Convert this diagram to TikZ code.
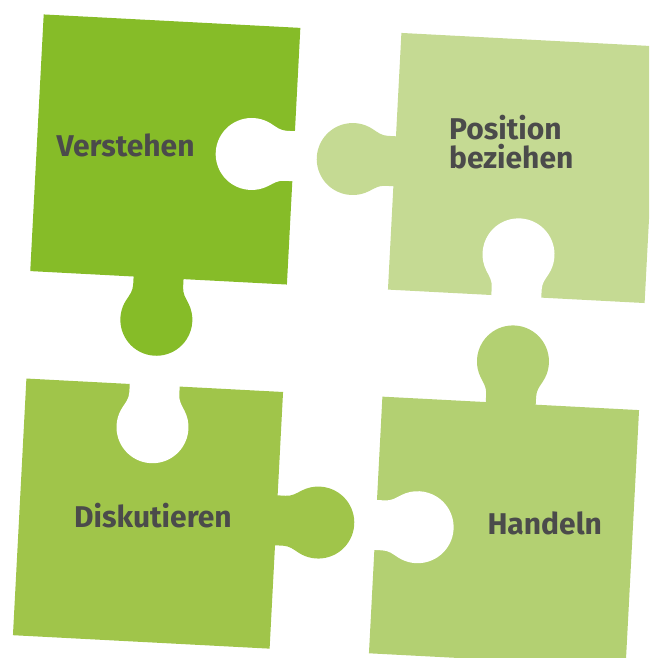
\documentclass[tikz,border=0pt]{standalone}
\usepackage{fontspec}
\setmainfont{Fira Sans}

\definecolor{verstehengreen}{HTML}{86BC28}
\definecolor{positiongreen}{HTML}{C5DA93}
\definecolor{diskutierengreen}{HTML}{A0C54A}
\definecolor{handelngreen}{HTML}{B3D072}
\definecolor{textgrey}{HTML}{4B4B4B}

% knob of a puzzle piece: #1 point on the edge, #2 outward angle, #3 colour
\newcommand{\puzzleknob}[3]{%
  \fill[#3, shift={#1}, rotate=#2] (-1,-25) -- (8,-25) to[out=0,in=150] (24,-31.2)
    arc[start angle=-120, end angle=120, radius=36] to[out=210,in=0] (8,25) -- (-1,25) -- cycle;
}

\begin{document}
\begin{tikzpicture}[
        x=1pt, y=1pt,
        piece/.style={rotate=-3},
        piecetext/.style={text=textgrey, inner sep=0pt, anchor=base west, align=left,
          font=\fontsize{30}{29}\selectfont\bfseries}
      ]
        \useasboundingbox (0,0) rectangle (649,658);
        \clip (0,0) rectangle (649,658);

        % Verstehen
        \begin{scope}[shift={(165.3,508.5)}, piece]
          \fill[verstehengreen] (-128.5,-128.5) rectangle (128.5,128.5);
          \puzzleknob{(0,-128.5)}{-90}{verstehengreen}
          \puzzleknob{(128.5,0)}{180}{white}
        \end{scope}

        % Position beziehen
        \begin{scope}[shift={(523,490)}, piece]
          \fill[positiongreen] (-128.5,-128.5) rectangle (128.5,128.5);
          \puzzleknob{(-128.5,0)}{180}{positiongreen}
          \puzzleknob{(0,-128.5)}{90}{white}
        \end{scope}

        % Diskutieren
        \begin{scope}[shift={(148,144.4)}, piece]
          \fill[diskutierengreen] (-128.5,-128.5) rectangle (128.5,128.5);
          \puzzleknob{(128.5,0)}{0}{diskutierengreen}
          \puzzleknob{(0,128.5)}{-90}{white}
        \end{scope}

        % Handeln
        \begin{scope}[shift={(504,126.3)}, piece]
          \fill[handelngreen] (-128.5,-128.5) rectangle (128.5,128.5);
          \puzzleknob{(0,128.5)}{90}{handelngreen}
          \puzzleknob{(-128.5,0)}{0}{white}
        \end{scope}

        \node (verstehen) at (56.5, 501)   [piecetext] {Verstehen};
        \node (position) at (449, 489.7)   [piecetext] {Position\\beziehen};
        \node (diskutieren) at (74, 130.3) [piecetext] {Diskutieren};
        \node (handeln) at (487.3, 123.7)  [piecetext] {Handeln};
      \end{tikzpicture}
\end{document}
